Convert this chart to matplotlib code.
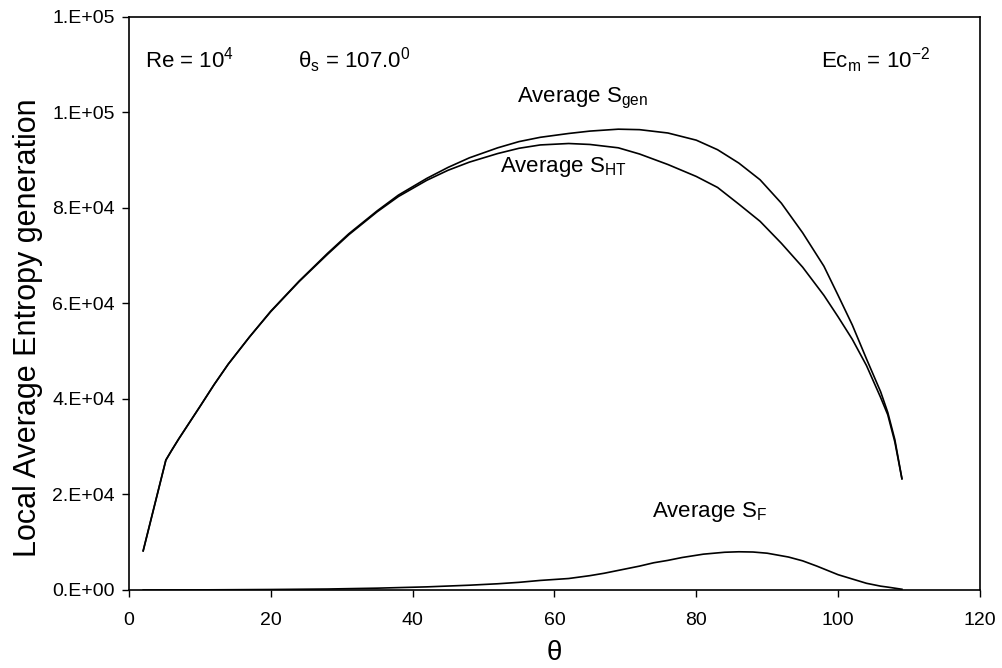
import matplotlib
matplotlib.use("Agg")
import matplotlib.pyplot as plt
from matplotlib.ticker import FuncFormatter

plt.rcParams['font.family'] = ['Liberation Sans', 'DejaVu Sans']
plt.rcParams['mathtext.fontset'] = 'custom'
plt.rcParams['mathtext.rm'] = 'Liberation Sans'
plt.rcParams['mathtext.it'] = 'Liberation Sans'

# angle along the cylinder (degrees)
theta = [2, 5.2, 6, 7, 8.5, 10, 12, 14, 17, 20, 24, 28, 31, 35, 38, 42, 45,
         48, 52, 55, 58, 62, 65, 69, 72, 76, 80, 83, 86, 89, 92, 95, 98, 100,
         102, 104, 106, 107, 108, 109]

# local average entropy generation, heat transfer part
s_ht = [8200, 27200, 29200, 31600, 35000, 38400, 43000, 47300, 53000, 58300,
        64600, 70300, 74400, 79200, 82400, 85800, 87900, 89600, 91400, 92500,
        93200, 93500, 93300, 92600, 91300, 89100, 86600, 84300, 80800, 77200,
        72600, 67600, 61700, 57200, 52500, 47000, 40300, 36700, 31000, 23300]

# total local average entropy generation
s_gen = [8200, 27200, 29200, 31600, 35000, 38400, 43000, 47300, 53000, 58400,
         64700, 70500, 74600, 79400, 82700, 86200, 88500, 90500, 92600, 93900,
         94800, 95600, 96100, 96500, 96400, 95700, 94200, 92200, 89400, 85900,
         81000, 74800, 67800, 61700, 55500, 48400, 41500, 37200, 31500, 23300]

# fluid friction part
theta_f = [2, 10, 20, 28, 35, 42, 48, 52, 55, 58, 62, 65, 67, 70, 72, 74, 76,
           78, 81, 84, 86, 88, 90, 93, 95, 97, 100, 102, 104, 106, 107, 109]
s_f = [0, 20, 100, 200, 380, 650, 1000, 1300, 1600, 2000, 2400, 3000, 3500,
       4400, 5000, 5700, 6200, 6800, 7500, 7900, 8000, 7950, 7700, 6900, 6100,
       5000, 3200, 2300, 1400, 800, 600, 150]

fig = plt.figure(figsize=(10.03, 6.68), dpi=100)
ax = fig.add_axes([0.1286, 0.1168, 0.8484, 0.8578])

ax.plot(theta, s_gen, color='black', lw=1.2)
ax.plot(theta, s_ht, color='black', lw=1.2)
ax.plot(theta_f, s_f, color='black', lw=1.2)

ax.set_xlim(0, 120)
ax.set_ylim(0, 1.2e5)
ax.set_xticks(range(0, 121, 20))
ax.set_yticks([0, 2e4, 4e4, 6e4, 8e4, 1e5, 1.2e5])
ax.yaxis.set_major_formatter(FuncFormatter(lambda v, p: format(v, '#.0E')))
ax.tick_params(direction='out', length=5, width=1, labelsize=14, colors='black')
ax.tick_params(axis='x', pad=11)
ax.tick_params(axis='y', pad=5)
for s in ax.spines.values():
    s.set_linewidth(1.2)

ax.set_xlabel('θ', fontsize=20, labelpad=8)
ax.set_ylabel('Local Average Entropy generation', fontsize=22)
ax.yaxis.set_label_coords(-0.101, 0.457)

fs = 16
ax.text(2.3, 111000, r'Re = 10$^{4}$', fontsize=fs, va='center')
ax.text(23.8, 111000, r'θ$_{\rm s}$ = 107.0$^{0}$', fontsize=fs, va='center')
ax.text(97.6, 111000, r'Ec$_{\rm m}$ = 10$^{-2}$', fontsize=fs, va='center')
ax.text(54.7, 102900, r'Average S$_{\rm gen}$', fontsize=fs, va='center')
ax.text(52.3, 88600, r'Average S$_{\rm HT}$', fontsize=fs, va='center')
ax.text(73.8, 16300, r'Average S$_{\rm F}$', fontsize=fs, va='center')

fig.savefig('out.png', dpi=100, facecolor='white')
